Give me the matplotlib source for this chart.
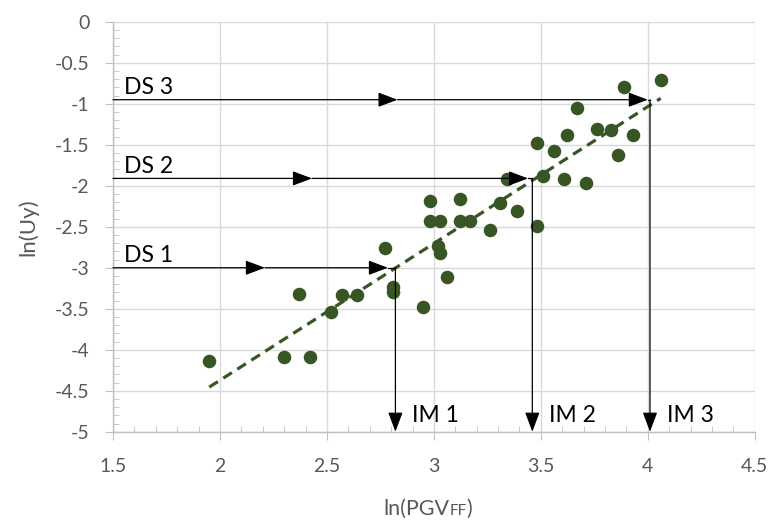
import numpy as np
import matplotlib.pyplot as plt
from matplotlib.ticker import MultipleLocator, FuncFormatter

plt.rcParams['font.family'] = ['Lato', 'DejaVu Sans']

# scatter data
ln_pgv = [1.95, 2.30, 2.42, 2.37, 2.52, 2.57, 2.64, 2.77, 2.81, 2.81,
          2.95, 2.98, 2.98, 3.03, 3.02, 3.03, 3.06, 3.12, 3.12, 3.17,
          3.26, 3.31, 3.34, 3.39, 3.48, 3.48, 3.51, 3.56, 3.61, 3.62,
          3.67, 3.71, 3.76, 3.83, 3.86, 3.89, 3.93, 4.06]
ln_uy = [-4.14, -4.09, -4.09, -3.32, -3.54, -3.33, -3.33, -2.76, -3.24, -3.29,
         -3.48, -2.19, -2.43, -2.43, -2.74, -2.82, -3.11, -2.16, -2.43, -2.43,
         -2.54, -2.21, -1.92, -2.31, -2.49, -1.48, -1.88, -1.58, -1.92, -1.38,
         -1.05, -1.96, -1.31, -1.32, -1.63, -0.79, -1.38, -0.71]

# damage states -> intensity measures
ds_labels = ['DS 1', 'DS 2', 'DS 3']
ds_levels = [-3.0, -1.91, -0.95]
ds_mid_x = [2.21, 2.43, 2.83]
ds_end_x = [2.785, 3.44, 4.0]
im_labels = ['IM 1', 'IM 2', 'IM 3']
im_values = [2.82, 3.46, 4.01]

green = '#375623'
grey = '#595959'

fig = plt.figure(figsize=(7.71, 5.20), dpi=100)
ax = fig.add_axes([0.1466, 0.1698, 0.8324, 0.7882])

ax.set_xlim(1.5, 4.5)
ax.set_ylim(-5, 0)
ax.xaxis.set_major_locator(MultipleLocator(0.5))
ax.xaxis.set_minor_locator(MultipleLocator(0.1))
ax.yaxis.set_major_locator(MultipleLocator(0.5))
ax.yaxis.set_minor_locator(MultipleLocator(0.1))
fmt = FuncFormatter(lambda v, p: '{:g}'.format(round(v, 2)))
ax.xaxis.set_major_formatter(fmt)
ax.yaxis.set_major_formatter(fmt)

ax.grid(True, which='major', color='#d9d9d9', lw=1.0)
ax.set_axisbelow(True)
for s in ['top', 'right']:
    ax.spines[s].set_visible(False)
for s in ['left', 'bottom']:
    ax.spines[s].set_color('#bfbfbf')
    ax.spines[s].set_linewidth(1.0)
ax.tick_params(which='major', direction='out', length=6, color='#bfbfbf',
               labelsize=14, labelcolor=grey)
ax.tick_params(axis='x', which='major', pad=13)
ax.tick_params(axis='y', which='major', pad=11)
ax.tick_params(which='minor', direction='in', length=4, color='#bfbfbf')

ax.scatter(ln_pgv, ln_uy, s=95, color=green, linewidths=0, zorder=3)

coef = np.polyfit(ln_pgv, ln_uy, 1)
xs = np.array([min(ln_pgv), max(ln_pgv)])
ax.plot(xs, np.polyval(coef, xs), color=green, lw=2.3, dashes=(3.2, 2.0), zorder=3)

arrow = dict(arrowstyle='-|>,head_length=0.8,head_width=0.3', color='black',
             lw=0.9, shrinkA=0, shrinkB=0, mutation_scale=15)
for lab, yv, xm, xe, xi, im in zip(ds_labels, ds_levels, ds_mid_x, ds_end_x,
                                    im_values, im_labels):
    ax.annotate('', xy=(xm, yv), xytext=(1.5, yv), arrowprops=arrow, zorder=5)
    ax.annotate('', xy=(xe, yv), xytext=(xm, yv), arrowprops=arrow, zorder=5)
    ax.plot([xe, xi], [yv, yv], color='black', lw=0.9, zorder=5)
    ax.annotate('', xy=(xi, -5), xytext=(xi, yv), arrowprops=arrow, zorder=5)
    ax.annotate(lab, xy=(1.551, yv), xytext=(0, 4), textcoords='offset points',
                fontsize=16.5, va='baseline', ha='left', zorder=6)
    ax.annotate(im, xy=(xi, -4.88), xytext=(12, 0), textcoords='offset points',
                fontsize=16.5, va='baseline', ha='left', zorder=6)

ax.set_ylabel('ln(Uy)', fontsize=16, color=grey)
ax.yaxis.set_label_coords(-0.117, 0.5)

# x label with small "FF"
fig.canvas.draw()
r = fig.canvas.get_renderer()
base = 0.0096
t1 = fig.text(0.497, base, 'ln(PGV', fontsize=15.5, color=grey, va='baseline')
x1 = t1.get_window_extent(r).x1 / fig.bbox.width
t2 = fig.text(x1, base, 'FF', fontsize=11, color=grey, va='baseline')
x2 = t2.get_window_extent(r).x1 / fig.bbox.width
fig.text(x2, base, ')', fontsize=15.5, color=grey, va='baseline')

fig.savefig('out.png', dpi=100)
